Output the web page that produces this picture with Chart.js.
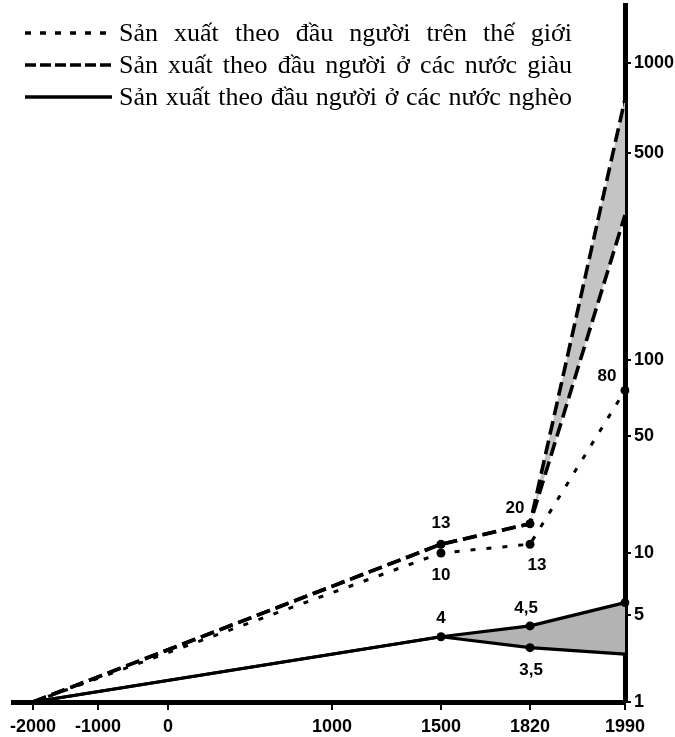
<!DOCTYPE html>
<html>
<head>
<meta charset="utf-8">
<style>
  html, body { margin: 0; padding: 0; background: #ffffff; }
  #wrap { width: 675px; height: 737px; position: relative; }
  canvas { display: block; }
</style>
<script src="https://cdn.jsdelivr.net/npm/chart.js@4.4.1/dist/chart.umd.min.js"></script>
</head>
<body>
<div id="wrap"><canvas id="c" width="675" height="737"></canvas></div>
<script>
// ---------------- DATA ----------------
const years = [-2000, 1500, 1820, 1990];
const worldValues = [1, 10, 13, 80];
const richUpper = [1, 13, 20, 800];
const richLower = [1, 13, 20, 380];
const poorUpper = [1, 4, 4.5, 6];
const poorLower = [1, 4, 3.5, 3.2];
const xTickValues = [-2000, -1000, 0, 1000, 1500, 1820, 1990];
const yTickValues = [1, 5, 10, 50, 100, 500, 1000];
const seriesNames = [
  'Sản xuất theo đầu người trên thế giới',
  'Sản xuất theo đầu người ở các nước giàu',
  'Sản xuất theo đầu người ở các nước nghèo'
];

// ------------- custom non-uniform scale (the original axes are hand-spaced) -------------
class PiecewiseScale extends Chart.Scale {
  determineDataLimits() {
    const v = this.options.anchorValues;
    this.min = v[0];
    this.max = v[v.length - 1];
  }
  buildTicks() {
    return this.options.tickValues.map(value => ({ value }));
  }
  getLabelForValue(value) { return String(value); }
  _toDecimal(value) {
    const v = this.options.anchorValues, d = this.options.anchorDecimals, n = v.length;
    let i = 0;
    while (i < n - 2 && value > v[i + 1]) i++;
    const t = (value - v[i]) / (v[i + 1] - v[i]);
    return d[i] + t * (d[i + 1] - d[i]);
  }
  getPixelForValue(value) {
    if (value === null || value === undefined || isNaN(value)) return NaN;
    return this.getPixelForDecimal(this._toDecimal(+value));
  }
  getPixelForTick(index) {
    const t = this.ticks;
    if (index < 0 || index >= t.length) return null;
    return this.getPixelForValue(t[index].value);
  }
  getValueForPixel(pixel) {
    const dec = this.getDecimalForPixel(pixel);
    const v = this.options.anchorValues, d = this.options.anchorDecimals, n = v.length;
    let i = 0;
    while (i < n - 2 && dec > d[i + 1]) i++;
    return v[i] + (dec - d[i]) / (d[i + 1] - d[i]) * (v[i + 1] - v[i]);
  }
}
PiecewiseScale.id = 'piecewise';
PiecewiseScale.defaults = {};
Chart.register(PiecewiseScale);

const sansFamily = "'Liberation Sans', Arial, sans-serif";
const tickFont = { family: sansFamily, size: 18, weight: 'bold' };

// ------------- legend drawn inside the plot (as in the original) -------------
const insideLegend = {
  id: 'insideLegend',
  afterDraw(chart, args, opts) {
    const ctx = chart.ctx;
    ctx.save();
    opts.items.forEach((it, k) => {
      const y = opts.top + k * opts.rowGap;
      ctx.beginPath();
      ctx.setLineDash(it.dash);
      ctx.lineWidth = it.width;
      ctx.strokeStyle = '#000';
      ctx.lineCap = 'butt';
      ctx.moveTo(opts.lineX0, y);
      ctx.lineTo(opts.lineX1, y);
      ctx.stroke();
      ctx.setLineDash([]);
      ctx.font = opts.font;
      ctx.fillStyle = '#000';
      ctx.textBaseline = 'alphabetic';
      ctx.textAlign = 'left';
      const text = seriesNames[k];
      const words = text.split(' ');
      const natural = ctx.measureText(text).width;
      const extra = Math.max(0, (opts.textRight - opts.textX - natural) / (words.length - 1));
      if ('wordSpacing' in ctx) {
        ctx.wordSpacing = extra.toFixed(2) + 'px';
        ctx.fillText(text, opts.textX, y + opts.baseShift);
        ctx.wordSpacing = '0px';
      } else {
        let cx = opts.textX;
        const sp = ctx.measureText(' ').width;
        words.forEach(w => { ctx.fillText(w, cx, y + opts.baseShift); cx += ctx.measureText(w).width + sp + extra; });
      }
    });
    ctx.restore();
  }
};

// ------------- value labels next to points -------------
const valueLabels = {
  id: 'valueLabels',
  afterDatasetsDraw(chart, args, opts) {
    const ctx = chart.ctx;
    ctx.save();
    ctx.font = opts.font;
    ctx.fillStyle = '#000';
    ctx.textAlign = 'center';
    ctx.textBaseline = 'middle';
    opts.items.forEach(s => {
      const el = chart.getDatasetMeta(s.ds).data[s.i];
      const val = chart.data.datasets[s.ds].data[s.i];
      const txt = String(val).replace('.', ',');
      ctx.fillText(txt, el.x + s.dx, el.y + s.dy);
    });
    ctx.restore();
  }
};

new Chart(document.getElementById('c'), {
  type: 'line',
  data: {
    labels: years,
    datasets: [
      { label: seriesNames[0], data: worldValues, borderColor: '#000', borderWidth: 3, borderDash: [5, 11],
        pointRadius: [0, 4.5, 4.5, 4.5], pointBackgroundColor: '#000', pointBorderWidth: 0, fill: false, tension: 0 },
      { label: seriesNames[1], data: richUpper, borderColor: '#000', borderWidth: 3.6, borderDash: [14, 6],
        pointRadius: [0, 4.5, 4.5, 0], pointBackgroundColor: '#000', pointBorderWidth: 0, fill: false, tension: 0 },
      { label: seriesNames[1], data: richLower, borderColor: '#000', borderWidth: 3.6, borderDash: [14, 6],
        pointRadius: 0, fill: '-1', backgroundColor: '#c4c4c4', tension: 0 },
      { label: seriesNames[2], data: poorUpper, borderColor: '#000', borderWidth: 3.2,
        pointRadius: [0, 4.5, 4.5, 4.5], pointBackgroundColor: '#000', pointBorderWidth: 0, fill: false, tension: 0 },
      { label: seriesNames[2], data: poorLower, borderColor: '#000', borderWidth: 3.2,
        pointRadius: [0, 0, 4.5, 0], pointBackgroundColor: '#000', pointBorderWidth: 0, fill: '-1', backgroundColor: '#b3b3b3', tension: 0 }
    ]
  },
  options: {
    responsive: false,
    animation: false,
    devicePixelRatio: 1,
    layout: { padding: { left: 13, top: 5, right: 0, bottom: 0 } },
    plugins: {
      legend: { display: false },
      tooltip: { enabled: false },
      insideLegend: {
        top: 33, rowGap: 32, lineX0: 25, lineX1: 112, textX: 119, textRight: 572, baseShift: 8,
        font: "26px 'Liberation Serif', 'Times New Roman', serif",
        items: [ { dash: [6, 9], width: 3.5 }, { dash: [11, 4], width: 3.5 }, { dash: [], width: 3.5 } ]
      },
      valueLabels: {
        font: "bold 17px " + sansFamily,
        items: [
          { ds: 1, i: 1, dx: 0, dy: -21 },
          { ds: 0, i: 1, dx: 0, dy: 22 },
          { ds: 1, i: 2, dx: -15, dy: -15 },
          { ds: 0, i: 2, dx: 7, dy: 21 },
          { ds: 0, i: 3, dx: -18, dy: -14 },
          { ds: 3, i: 1, dx: 0, dy: -18 },
          { ds: 3, i: 2, dx: -4, dy: -18 },
          { ds: 4, i: 2, dx: 1, dy: 23 }
        ]
      }
    },
    scales: {
      x: {
        type: 'piecewise',
        position: 'bottom',
        anchorValues: [-2308, -2000, -1000, 0, 1000, 1500, 1820, 1990],
        anchorDecimals: [0, 0.0327, 0.1389, 0.2533, 0.5212, 0.6993, 0.8448, 1],
        tickValues: xTickValues,
        grid: { display: true, drawOnChartArea: false, drawTicks: true, tickLength: 8, color: '#000', lineWidth: 2 },
        border: { display: true, color: '#000', width: 5 },
        ticks: { autoSkip: false, maxRotation: 0, minRotation: 0, padding: 6, color: '#000', font: tickFont,
                 callback: v => String(v) },
        afterFit: s => { s.height = 35; s.paddingLeft = 0; s.paddingRight = 0; }
      },
      y: {
        type: 'piecewise',
        position: 'right',
        anchorValues: [1, 5, 10, 50, 100, 500, 1000, 1322],
        anchorDecimals: [0, 0.1248, 0.2138, 0.3816, 0.4907, 0.7877, 0.9168, 1],
        tickValues: yTickValues,
        grid: { display: true, drawOnChartArea: false, drawTicks: true, tickLength: 6, color: '#000', lineWidth: 2 },
        border: { display: true, color: '#000', width: 5 },
        ticks: { autoSkip: false, padding: 3, color: '#000', font: tickFont, callback: v => String(v) },
        afterFit: s => { s.width = 50; s.paddingTop = 0; s.paddingBottom = 0; }
      }
    }
  },
  plugins: [insideLegend, valueLabels]
});
</script>
</body>
</html>
